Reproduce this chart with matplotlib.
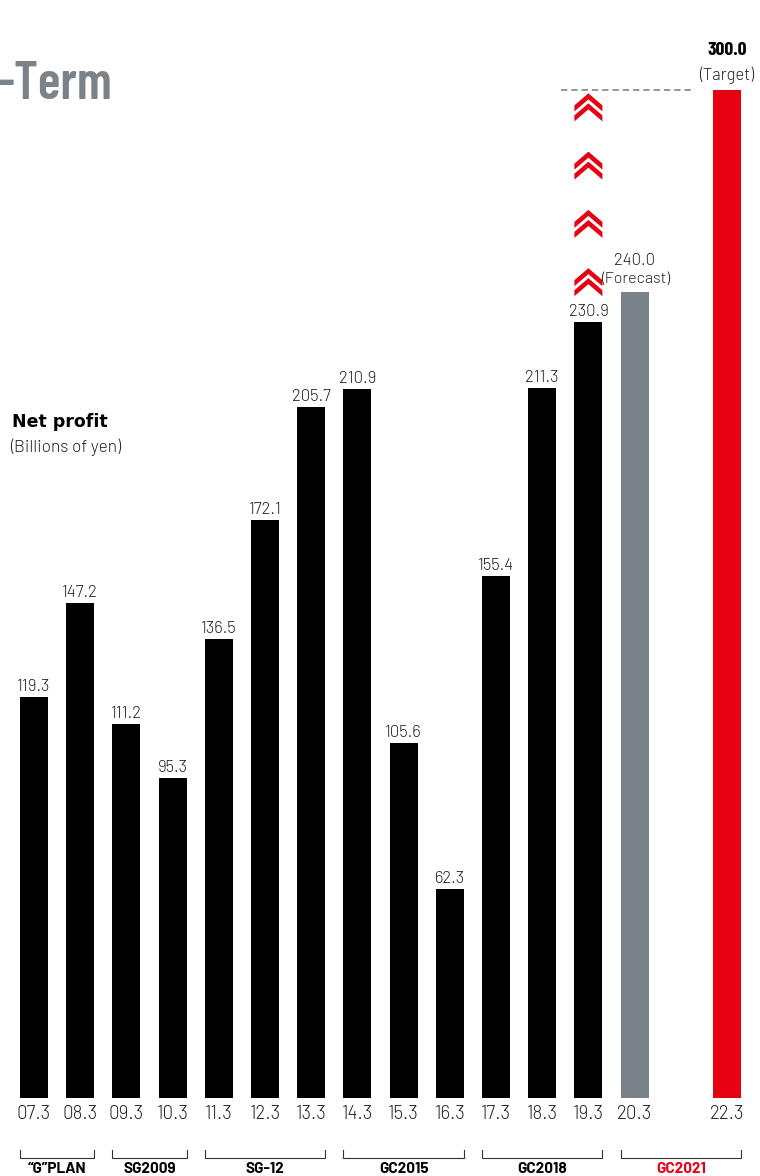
import matplotlib
matplotlib.use("Agg")
import matplotlib.pyplot as plt
import numpy as np
from matplotlib.patches import Polygon

# ---- data (billions of yen) ----
periods = ["07.3", "08.3", "09.3", "10.3", "11.3", "12.3", "13.3",
           "14.3", "15.3", "16.3", "17.3", "18.3", "19.3", "20.3", "22.3"]
net_profit = [119.3, 147.2, 111.2, 95.3, 136.5, 172.1, 205.7,
              210.9, 105.6, 62.3, 155.4, 211.3, 230.9, 240.0, 300.0]
kind = ["actual"] * 13 + ["forecast", "target"]

plan_names = ["\u201cG\u201dPLAN", "SG2009", "SG-12", "GC2015", "GC2018", "GC2021"]
plan_first = ["07.3", "09.3", "11.3", "14.3", "17.3", "20.3"]
plan_last = ["08.3", "10.3", "13.3", "16.3", "19.3", "22.3"]

BLACK = "#000000"
GRAY = "#7a8289"
RED = "#e60012"
TXT = "#231f20"
bar_color = {"actual": BLACK, "forecast": GRAY, "target": RED}

NUM = ["Barlow", "DejaVu Sans"]
COND = ["Barlow Condensed", "DejaVu Sans"]

W, H = 760, 1176
SLOT = 46.2      # px between bars
X0 = 34          # px centre of first bar
PX_Y = 3.36      # px per billion yen
BASE = 1098      # px of zero line from top


def py2y(py):
    return (BASE - py) / PX_Y


fig = plt.figure(figsize=(W / 100, H / 100), dpi=100)
ax = fig.add_axes([0, 0, 1, 1])
ax.set_xlim(-X0 / SLOT, (W - X0) / SLOT)
ax.set_ylim(py2y(H), py2y(0))
ax.axis("off")

# fiscal year -> slot (21.3 is skipped)
pos = {p: int(p[:2]) - 7 for p in periods}
xs = [pos[p] for p in periods]
ax.bar(xs, net_profit, width=28 / SLOT, color=[bar_color[k] for k in kind])

lab = dict(ha="center", va="baseline", textcoords="offset pixels",
           fontsize=12, fontweight=300, family=NUM, color=TXT)
for x, v, k, p in zip(xs, net_profit, kind, periods):
    ax.annotate(p, (x, 0), xytext=(0, -21), **{**lab, "fontsize": 13.5})
    if k == "actual":
        ax.annotate(f"{v:.1f}", (x, v), xytext=(0, 6), **lab)
    elif k == "forecast":
        ax.annotate("(Forecast)", (x, v), xytext=(1, 9), **{**lab, "fontsize": 11.5})
        ax.annotate(f"{v:.1f}", (x, v), xytext=(0, 27), **lab)
    else:
        ax.annotate("(Target)", (x, v), xytext=(0, 10), **lab)
        ax.annotate(f"{v:.1f}", (x, v), xytext=(0, 35),
                    **{**lab, "fontsize": 14, "fontweight": 700,
                       "family": COND, "color": BLACK})

# plan brackets
half = 14 / SLOT
y_line, y_tick, y_lab = py2y(1158), py2y(1150), py2y(1173)
for name, a, b in zip(plan_names, plan_first, plan_last):
    xa, xb = pos[a] - half, pos[b] + half
    ax.plot([xa, xa, xb, xb], [y_tick, y_line, y_line, y_tick],
            color="#333333", lw=0.8, solid_joinstyle="miter")
    ax.text((xa + xb) / 2, y_lab, name, ha="center", va="baseline",
            fontsize=11, fontweight=700, family=NUM,
            color=RED if name == "GC2021" else BLACK)

# dashed target line
target = net_profit[-1]
ax.plot([(561 - X0) / SLOT, (695 - X0) / SLOT], [target, target], color="#8c8c8c",
        lw=1.3, dashes=(3.5, 2.2))

# red chevrons above the 19.3 bar, stepping up to the target
cx = pos["19.3"]
w = 14 / SLOT
h = 12 / PX_Y
t = 6 / PX_Y
gap = 10 / PX_Y
low = net_profit[periods.index("19.3")] + 54 / PX_Y
for top in np.linspace(target - 1, low, 4):
    for j in range(2):
        apex = top - j * gap
        base = apex - h
        ax.add_patch(Polygon([(cx - w, base), (cx, apex), (cx + w, base),
                              (cx + w, base - t), (cx, apex - t), (cx - w, base - t)],
                             closed=True, color=RED, lw=0))

# headings
fig.text(-2 / W, 1 - 99 / H, "-Term", ha="left", va="baseline", fontsize=38,
         fontweight=600, family=COND, color="#7b8389")
fig.text(12 / W, 1 - 427 / H, "Net profit", ha="left", va="baseline",
         fontsize=12.5, fontweight="bold", family="DejaVu Sans", color=BLACK)
fig.text(10 / W, 1 - 452 / H, "(Billions of yen)", ha="left", va="baseline",
         fontsize=12.5, fontweight=300, family=NUM, color=TXT)

fig.savefig("out.png", dpi=100)
